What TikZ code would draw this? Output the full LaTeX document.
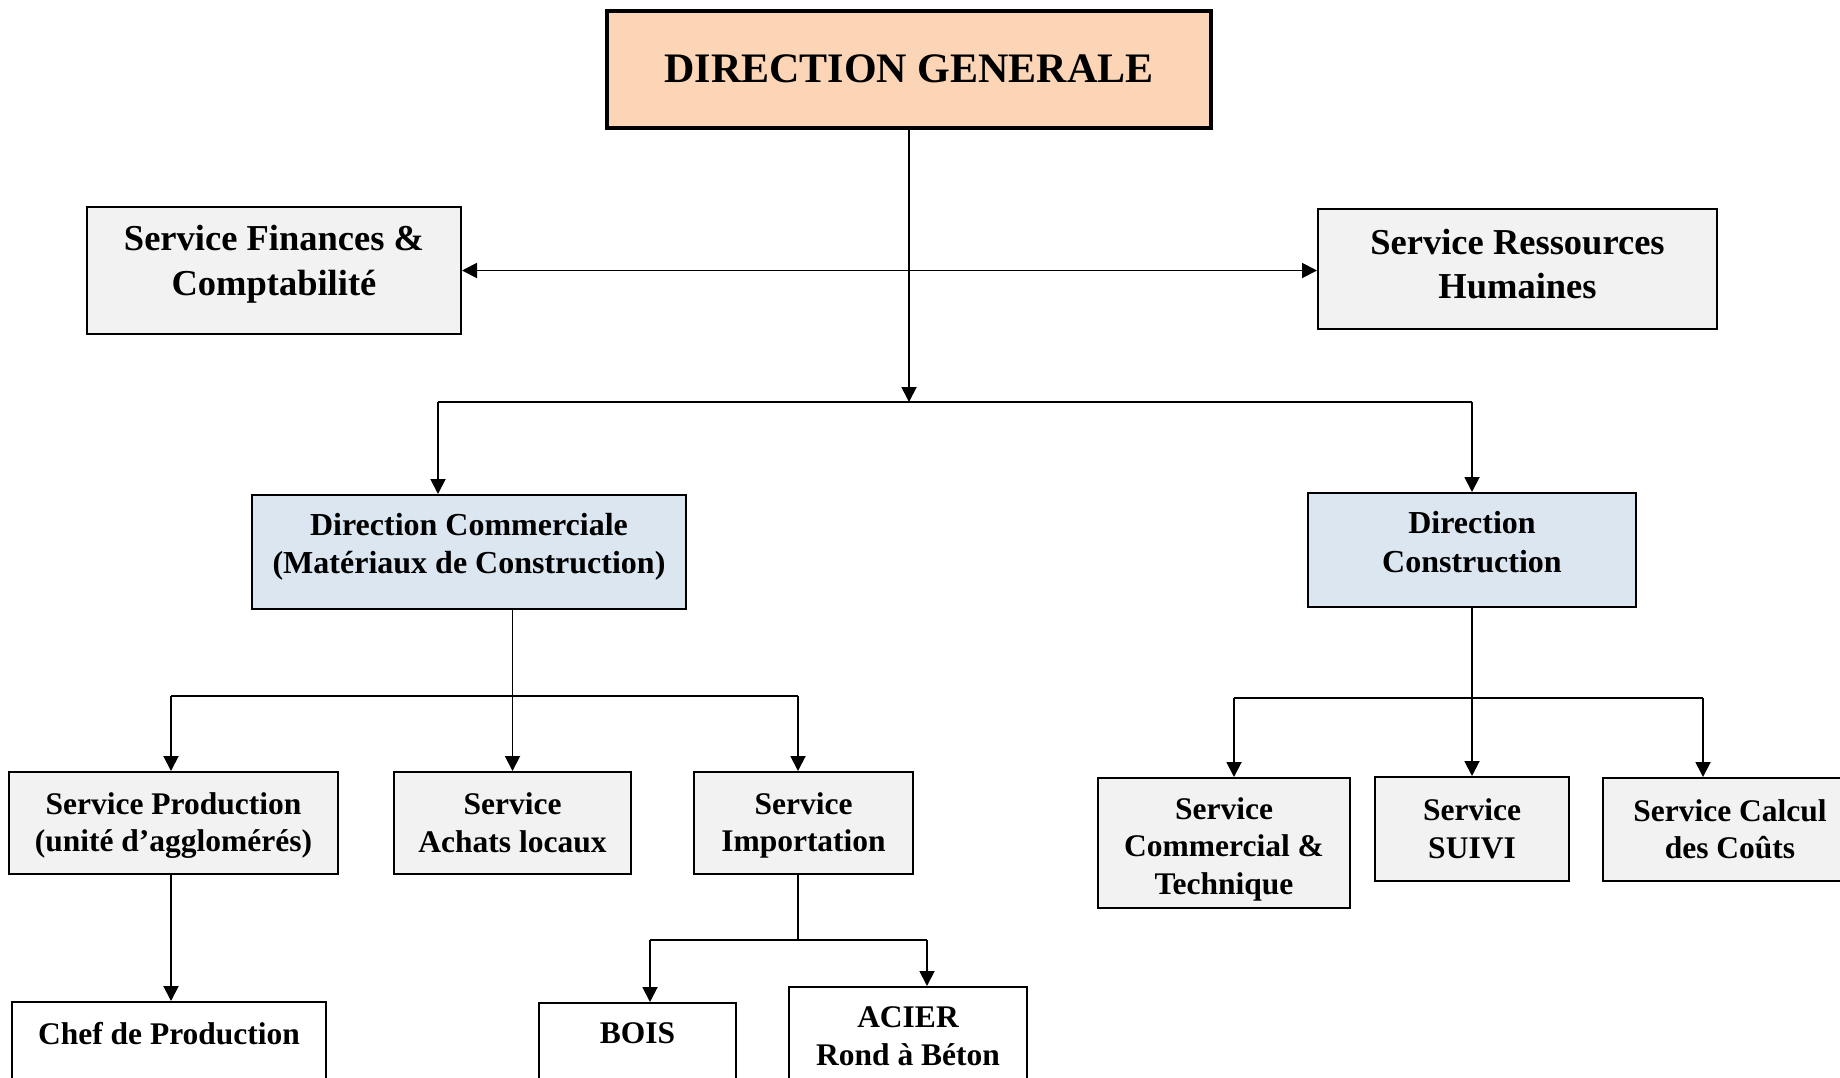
\documentclass[tikz,border=0pt]{standalone}
\usepackage{fontspec}
\setmainfont{Liberation Serif}
\usepackage{tikz}
\usetikzlibrary{arrows.meta}
\definecolor{orgpeach}{HTML}{FBD5B5}
\definecolor{orggray}{HTML}{F2F2F2}
\definecolor{orgblue}{HTML}{DCE6F1}
% struts to nudge the text of a box up or down
\newcommand{\txtup}[1]{\rule[-#1]{0pt}{0pt}}
\newcommand{\txtdown}[1]{\rule{0pt}{#1}}

\begin{document}
\begin{tikzpicture}[x=1pt,y=-1pt,
  box/.style={draw=black, line width=2pt, fill=orggray, align=center, inner sep=0pt},
  lvltwo/.style={box, font=\bfseries\fontsize{36.5}{44.5}\selectfont},
  lvlthree/.style={box, fill=orgblue, font=\bfseries\fontsize{32}{38.5}\selectfont},
  lvlfour/.style={box, font=\bfseries\fontsize{31.5}{37.5}\selectfont},
  cutbox/.style={lvlfour, fill=white, anchor=north, inner ysep=20pt},
  link/.style={line width=1.9pt},
  arr/.style={link, -{Triangle[length=15pt,width=15pt]}},
  dblarr/.style={link, {Triangle[length=15pt,width=15pt]}-{Triangle[length=15pt,width=15pt]}}]
  \useasboundingbox[fill=white] (0,0) rectangle (1840,1077);

  % Top
  \node[box, fill=orgpeach, line width=4pt, minimum width=604, minimum height=117, font=\bfseries\fontsize{42}{50}\selectfont] (dg) at (909,69) {DIRECTION GENERALE};

  % Staff services
  \node[lvltwo, minimum width=374, minimum height=127] (fin) at (274,270.5) {Service Finances \&\\Comptabilité\txtup{20pt}};
  \node[lvltwo, minimum width=399, minimum height=120] (rh) at (1517.5,269) {Service Ressources\\Humaines\txtup{10pt}};

  % Directions
  \node[lvlthree, minimum width=434, minimum height=114] (dcom) at (469,552) {Direction Commerciale\\(Matériaux de Construction)\txtup{17pt}};
  \node[lvlthree, minimum width=328, minimum height=114] (dcons) at (1472,550) {Direction\\Construction\txtup{16pt}};

  % Services under the commercial direction
  \node[lvlfour, minimum width=329, minimum height=102] (sprod) at (173.5,823) {\txtdown{27pt}Service Production\\(unité d’agglomérés)};
  \node[lvlfour, minimum width=237, minimum height=102] (sach) at (512.5,823) {Service\\Achats locaux};
  \node[lvlfour, minimum width=219, minimum height=102] (simp) at (803.5,823) {\txtdown{27pt}Service\\Importation};

  % Services under the construction direction
  \node[lvlfour, minimum width=252, minimum height=130] (scom) at (1224,843) {\txtdown{34pt}Service\\Commercial \&\\Technique};
  \node[lvlfour, minimum width=194, minimum height=104] (ssuivi) at (1472,829) {Service\\SUIVI};
  \node[lvlfour, minimum width=254, minimum height=103] (scalc) at (1730,829.5) {Service Calcul\\des Coûts};

  % Bottom row (runs off the page)
  \node[cutbox, minimum width=314] (chef) at (169,1001) {Chef de Production\\[80pt]\mbox{}};
  \node[cutbox, minimum width=197] (bois) at (637.5,1002) {BOIS\\[80pt]\mbox{}};
  \node[cutbox, minimum width=238] (acier) at (908,986) {ACIER\\Rond à Béton\\[60pt]\mbox{}};

  % Connectors
  \coordinate (j1) at (909,402);
  \coordinate (b1l) at (438,402);
  \coordinate (b1r) at (1472,402);
  \coordinate (b2l) at (171,696);
  \coordinate (b2r) at (798,696);
  \coordinate (b3l) at (650,940);
  \coordinate (b3r) at (927,940);
  \coordinate (b4l) at (1234,698);
  \coordinate (b4r) at (1703,698);

  \draw[arr] (dg.south) -- (j1);
  \draw[dblarr] (fin.east) -- (fin.east -| rh.west);
  \draw[link] (b1l) -- (b1r);
  \draw[arr] (b1l) -- (b1l |- dcom.north);
  \draw[arr] (b1r) -- (dcons.north);

  \draw[arr] (sach.north |- dcom.south) -- (sach.north);
  \draw[link] (b2l) -- (b2r);
  \draw[arr] (b2l) -- (b2l |- sprod.north);
  \draw[arr] (b2r) -- (b2r |- simp.north);
  \draw[arr] (b2l |- sprod.south) -- (b2l |- chef.north);

  \draw[link] (b2r |- simp.south) -- (b2r |- b3l);
  \draw[link] (b3l) -- (b3r);
  \draw[arr] (b3l) -- (b3l |- bois.north);
  \draw[arr] (b3r) -- (b3r |- acier.north);

  \draw[arr] (dcons.south) -- (ssuivi.north);
  \draw[link] (b4l) -- (b4r);
  \draw[arr] (b4l) -- (b4l |- scom.north);
  \draw[arr] (b4r) -- (b4r |- scalc.north);
\end{tikzpicture}
\end{document}
